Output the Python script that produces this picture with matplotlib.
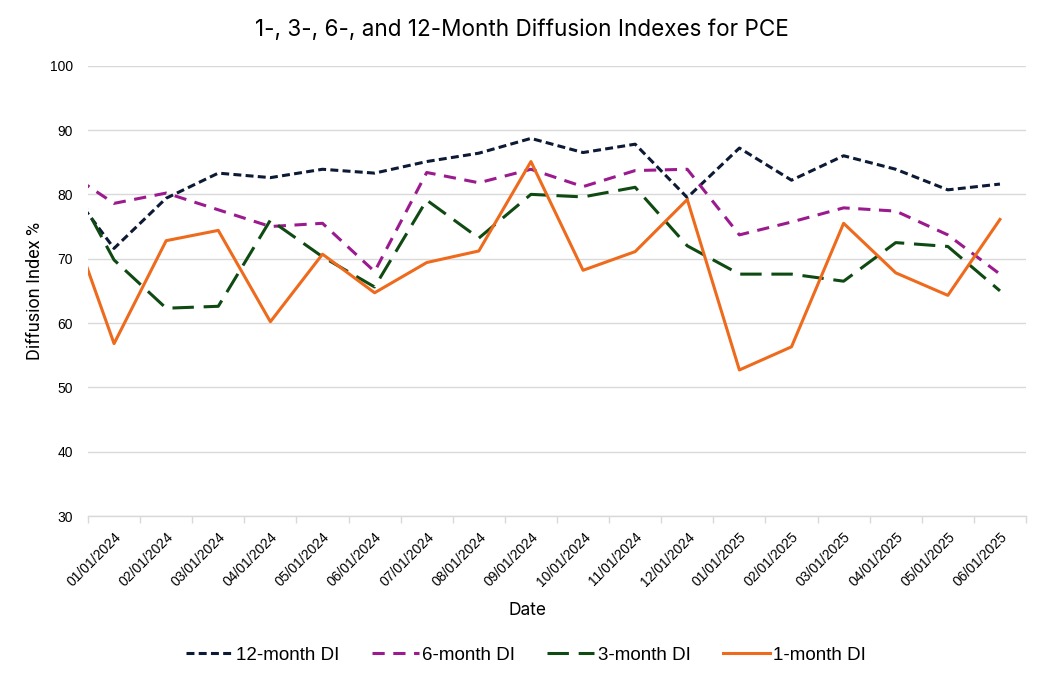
import matplotlib
matplotlib.use("Agg")
import matplotlib.pyplot as plt
import numpy as np

# Dates (first entry is the prior month, partly visible at the left edge)
dates = ["12/01/2023", "01/01/2024", "02/01/2024", "03/01/2024", "04/01/2024", "05/01/2024",
         "06/01/2024", "07/01/2024", "08/01/2024", "09/01/2024", "10/01/2024",
         "11/01/2024", "12/01/2024", "01/01/2025", "02/01/2025", "03/01/2025",
         "04/01/2025", "05/01/2025", "06/01/2025"]

di_12m = [82.4, 71.6, 79.4, 83.3, 82.6, 83.9, 83.3, 85.1, 86.4, 88.7, 86.5, 87.8, 79.5,
          87.2, 82.2, 86.0, 83.9, 80.7, 81.6]
di_6m = [84.0, 78.6, 80.2, 77.6, 75.0, 75.5, 68.0, 83.4, 81.8, 83.9, 81.2, 83.7, 83.9,
         73.7, 75.7, 77.9, 77.4, 73.7, 67.6]
di_3m = [84.8, 69.8, 62.3, 62.6, 76.0, 70.3, 65.6, 79.1, 73.2, 80.0, 79.6, 81.1, 72.0,
         67.6, 67.6, 66.5, 72.5, 71.9, 65.0]
di_1m = [79.6, 56.8, 72.8, 74.4, 60.2, 70.7, 64.7, 69.4, 71.2, 85.1, 68.2, 71.1, 79.2,
         52.7, 56.3, 75.5, 67.8, 64.3, 76.1]

y_ticks = [30, 40, 50, 60, 70, 80, 90, 100]

c12 = "#0C1A36"
c6 = "#9B1B8E"
c3 = "#0E4A12"
c1 = "#EE6A1C"

fig = plt.figure(figsize=(10.44, 6.83), dpi=100)
ax = fig.add_axes([88/1044, 1-516/683, (1026-88)/1044, (516-65.7)/683])

x = np.arange(len(dates)) - 1  # first visible category at 0

lw = 2.2
ax.plot(x, di_12m, color=c12, lw=lw, dashes=(2.6, 1.4), label="12-month DI", zorder=3)
ax.plot(x, di_6m, color=c6, lw=lw, dashes=(4.0, 2.8), label="6-month DI", zorder=3)
ax.plot(x, di_3m, color=c3, lw=lw, dashes=(7.0, 3.2), label="3-month DI", zorder=3)
ax.plot(x, di_1m, color=c1, lw=lw, label="1-month DI", zorder=4)

n = len(dates) - 1
ax.set_xlim(-0.5, n - 0.5)
ax.set_ylim(30, 100)
ax.set_yticks(y_ticks)
ax.set_yticklabels([str(v) for v in y_ticks], fontsize=10, family="Liberation Sans")
ax.tick_params(axis="y", length=0, pad=10.8)

ax.set_xticks(np.arange(n))
ax.set_xticklabels(dates[1:], rotation=45, ha="right", rotation_mode="anchor",
                   fontsize=10, family="Liberation Sans")
ax.tick_params(axis="x", which="major", length=0, pad=10)
ax.set_xticks(np.arange(n + 1) - 0.5, minor=True)
ax.tick_params(axis="x", which="minor", length=5, color="#D9D9D9", width=1)

ax.grid(axis="y", color="#D9D9D9", lw=1)
ax.set_axisbelow(True)
for s in ["top", "right", "left"]:
    ax.spines[s].set_visible(False)
ax.spines["bottom"].set_color("#D9D9D9")
ax.spines["bottom"].set_linewidth(1)

ax.set_ylabel("Diffusion Index %", fontsize=13, family="Roboto")
ax.yaxis.set_label_coords(-(88 - 44) / 938, 0.5)
ax.set_xlabel("Date", fontsize=12.5, family="Inter")
ax.xaxis.set_label_coords((528 - 88) / 938, -(602 - 516) / 450.3)

fig.text(0.5, 1 - 30/683, "1-, 3-, 6-, and 12-Month Diffusion Indexes for PCE",
         ha="center", va="center", fontsize=16.2, family="Inter")

leg = fig.legend(loc="center", bbox_to_anchor=(526/1044, 1 - 655/683), ncol=4, frameon=False,
                 prop={"family": "Liberation Sans", "size": 13.5}, handlelength=2.5,
                 columnspacing=1.7, handletextpad=0.2)

fig.savefig("out.png", dpi=100)
